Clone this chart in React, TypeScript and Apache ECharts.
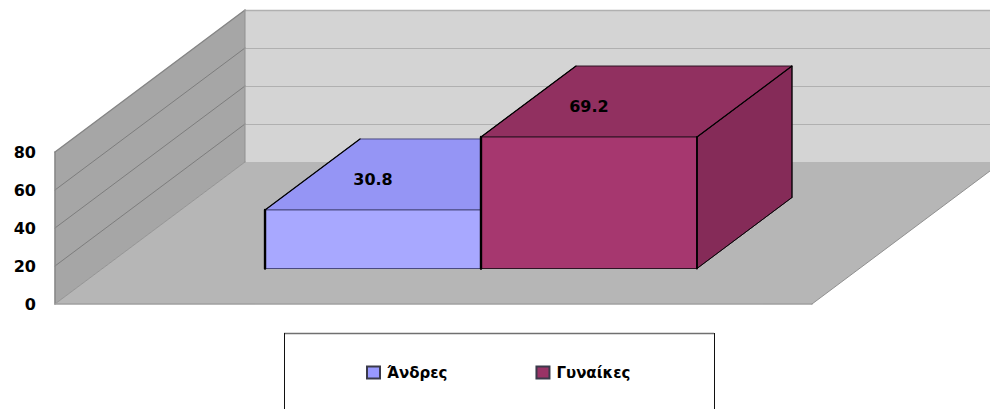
import React, { useEffect, useRef } from "react";
import * as echarts from "echarts";

const categories = [""];
const seriesNames = ["Άνδρες", "Γυναίκες"];
const menValues = [30.8];
const womenValues = [69.2];
const yTicks = [0, 20, 40, 60, 80];

const DEPTH_X = 190;
const DEPTH_Y = -142;
const FONT = "'DejaVu Sans', sans-serif";

type Face = { front: string; top: string; side: string; edge: string; topEdge: string; legend: string };
const faces: Face[] = [
  { front: "#a8a8ff", top: "#9595f5", side: "#8a8ae0", edge: "#000000", topEdge: "#4a4a80", legend: "#9999ff" },
  { front: "#a6376f", top: "#913060", side: "#852b58", edge: "#000000", topEdge: "#2e1424", legend: "#993366" },
];

const poly = (points: number[][], fill: string, stroke?: string, lineWidth = 1) => ({
  type: "polygon",
  shape: { points },
  style: { fill, stroke: stroke || "none", lineWidth },
});
const seg = (a: number[], b: number[], stroke: string, lineWidth = 1) => ({
  type: "line",
  shape: { x1: a[0], y1: a[1], x2: b[0], y2: b[1] },
  style: { stroke, lineWidth, lineCap: "round" },
});

const renderWalls = (_p: any, api: any) => {
  const cx = api.coord([0, 0])[0];
  const w = api.size([1, 0])[0];
  const left = cx - w / 2;
  const right = cx + w / 2;
  const y0 = api.coord([0, yTicks[0]])[1];
  const yTop = api.coord([0, yTicks[yTicks.length - 1]])[1];
  const backL = left + DEPTH_X;
  const backR = right + DEPTH_X;
  const children: any[] = [
    poly([[backL, yTop + DEPTH_Y], [backR, yTop + DEPTH_Y], [backR, y0 + DEPTH_Y], [backL, y0 + DEPTH_Y]], "#d4d4d4"),
    poly([[left, y0], [backL, y0 + DEPTH_Y], [backR, y0 + DEPTH_Y], [right, y0]], "#b6b6b6"),
    poly([[left, yTop], [backL, yTop + DEPTH_Y], [backL, y0 + DEPTH_Y], [left, y0]], "#a6a6a6"),
  ];
  yTicks.forEach((t) => {
    const y = api.coord([0, t])[1];
    if (t !== yTicks[0]) {
      children.push(seg([left, y], [backL, y + DEPTH_Y], t === 80 ? "#858585" : "#787878", t === 80 ? 1.4 : 0.9));
      children.push(seg([backL, y + DEPTH_Y + 0.5], [backR, y + DEPTH_Y + 0.5], "#b0b0b0", t === 80 ? 1.4 : 1));
    }
  });
  children.push(seg([left, y0], [backL, y0 + DEPTH_Y], "#8a8a8a", 0.8));
  children.push(seg([left, yTop], [left, y0], "#888888", 1.6));
  children.push(seg([backL, yTop + DEPTH_Y], [backL, y0 + DEPTH_Y], "#909090", 1));
  children.push(seg([left, y0], [right, y0], "#a0a0a0", 1.4));
  children.push(seg([right, y0], [backR, y0 + DEPTH_Y], "#909090", 1));
  return { type: "group", children };
};

const renderBar = (index: number) => (_p: any, api: any) => {
  const value = api.value(1);
  const c = api.coord([0, 0]);
  const band = api.size([1, 0])[0];
  const barW = band * 0.2853;
  const xStart = c[0] - barW + index * barW + DEPTH_X / 4;
  const yBase = c[1] + DEPTH_Y / 4;
  const yTop = yBase - (c[1] - api.coord([0, value])[1]);
  const dx = DEPTH_X / 2;
  const dy = DEPTH_Y / 2;
  const x1 = xStart + barW;
  const f = faces[index];
  return {
    type: "group",
    children: [
      poly([[x1, yBase], [x1 + dx, yBase + dy], [x1 + dx, yTop + dy], [x1, yTop]], f.side, f.topEdge, 1),
      poly([[xStart, yTop], [xStart + dx, yTop + dy], [x1 + dx, yTop + dy], [x1, yTop]], f.top, f.topEdge, 1),
      poly([[xStart, yBase], [x1, yBase], [x1, yTop], [xStart, yTop]], f.front, f.topEdge, 1),
      seg([xStart, yBase], [xStart, yTop], f.edge, 2.4),
      seg([xStart, yTop], [xStart + dx, yTop + dy], f.edge, 1.2),
      seg([x1, yBase], [x1, yTop], f.edge, 1.8),
      seg([x1, yTop], [x1 + dx, yTop + dy], f.edge, 1.2),
      seg([x1 + dx, yTop + dy], [x1 + dx, yBase + dy], f.edge, 1),
      seg([x1, yBase], [x1 + dx, yBase + dy], f.edge, 0.8),
      {
        type: "text",
        z2: 10,
        style: {
          text: String(value),
          x: xStart + barW / 2,
          y: yTop - 30.5,
          align: "center",
          verticalAlign: "middle",
          fill: "#000000",
          font: `bold 16px ${FONT}`,
        },
      },
    ],
  };
};

export default function App() {
  const ref = useRef<HTMLDivElement>(null);
  useEffect(() => {
    document.body.style.margin = "0";
    document.body.style.overflow = "hidden";
    const chart = echarts.init(ref.current!, undefined, { renderer: "svg" });
    const values = [menValues, womenValues];
    chart.setOption({
      animation: false,
      backgroundColor: "#ffffff",
      grid: { left: 55, top: 152, width: 757, height: 152, containLabel: false },
      xAxis: { type: "category", data: categories, show: false },
      yAxis: {
        type: "value",
        min: 0,
        max: 80,
        interval: 20,
        axisLine: { show: false },
        axisTick: { show: false },
        splitLine: { show: false },
        axisLabel: { margin: 19, color: "#000000", fontFamily: FONT, fontWeight: "bold", fontSize: 16, padding: [0, 0, 2, 0] },
      },
      legend: {
        data: seriesNames,
        left: 361,
        top: 360,
        padding: [5, 5],
        itemGap: 88,
        itemWidth: 13,
        itemHeight: 12,
        icon: "rect",
        selectedMode: false,
        textStyle: { color: "#000000", fontFamily: FONT, fontWeight: "bold", fontSize: 15, padding: [0, 0, 0, 2] },
      },
      graphic: [
        { type: "line", shape: { x1: 284, y1: 333.5, x2: 714, y2: 333.5 }, style: { stroke: "#707070", lineWidth: 1.4 } },
        { type: "line", shape: { x1: 284.5, y1: 333, x2: 284.5, y2: 409 }, style: { stroke: "#111111", lineWidth: 1 } },
        { type: "line", shape: { x1: 714.5, y1: 333, x2: 714.5, y2: 409 }, style: { stroke: "#111111", lineWidth: 1 } },
      ],
      series: [
        {
          type: "custom",
          name: "walls",
          coordinateSystem: "cartesian2d",
          silent: true,
          z: 1,
          data: [[0, 0]],
          renderItem: renderWalls,
        },
        ...seriesNames.map((name, i) => ({
          type: "custom",
          name,
          coordinateSystem: "cartesian2d",
          z: 2 + i,
          silent: true,
          itemStyle: { color: faces[i].legend, borderColor: "#3a3a4a", borderWidth: 1 },
          encode: { x: 0, y: 1 },
          data: values[i].map((v, k) => [k, v]),
          renderItem: renderBar(i),
        })),
      ],
    });
    return () => chart.dispose();
  }, []);
  return <div ref={ref} style={{ position: "absolute", left: 0, top: 0, width: 990, height: 409 }} />;
}
